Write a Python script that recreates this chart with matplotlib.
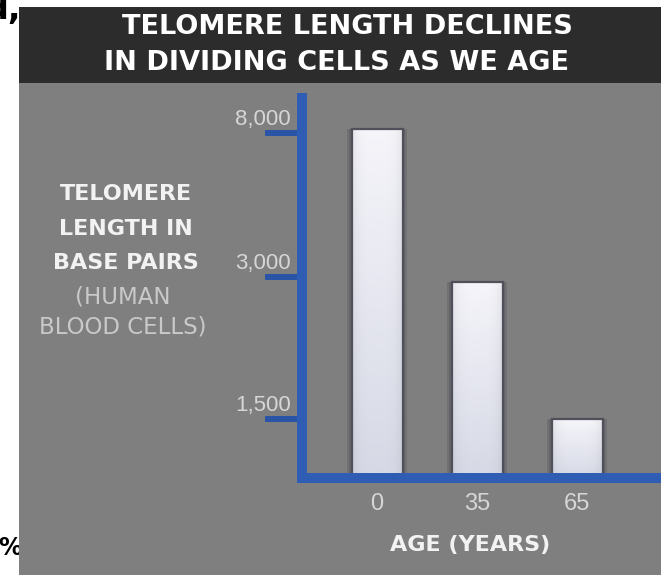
import numpy as np
import matplotlib
matplotlib.use("Agg")
import matplotlib.pyplot as plt
from matplotlib.patches import Rectangle
from matplotlib.ticker import NullLocator
from matplotlib.transforms import ScaledTranslation, TransformedBbox, BboxTransformTo

# data
ages = ["0", "35", "65"]
telomere_bp = [8150, 2950, 1500]
ytick_values = [1500, 3000, 8000]
ytick_labels = ["1,500", "3,000", "8,000"]

# the value axis in the picture is not linear: the three ticks are evenly spaced
scale_values = [0, 1500, 3000, 8000, 20000]
scale_units = [0, 0.415, 1.415, 2.43, 2.43 + 12000 * 1.015 / 5000]


def fwd(v):
    return np.interp(v, scale_values, scale_units)


def inv(u):
    return np.interp(u, scale_units, scale_values)


W, H = 661, 575
BLUE = "#2e5db3"
GRAY = "#7f7f7f"


def fx(px):
    return px / W


def fy(py):
    return 1 - py / H


plt.rcParams["font.family"] = ["Liberation Sans", "DejaVu Sans"]
fig = plt.figure(figsize=(W / 100, H / 100), dpi=100)
fig.patch.set_facecolor("white")

# cut-off text of the page the chart was taken from
fig.text(fx(21), fy(19), "d,", ha="right", va="baseline", fontsize=24,
         weight="bold", color="black", family="DejaVu Sans", zorder=-3)
fig.text(fx(22), fy(555), "%", ha="right", va="baseline", fontsize=17,
         weight="bold", color="black", family="DejaVu Sans", zorder=-3)

# gray panel and dark header
fig.patches.append(Rectangle((fx(19), 0), 1 - fx(19), fy(7), transform=fig.transFigure,
                             facecolor=GRAY, edgecolor="none", zorder=-2))
fig.patches.append(Rectangle((fx(19), fy(83)), 1 - fx(19), fy(7) - fy(83),
                             transform=fig.transFigure, facecolor="#2c2c2c",
                             edgecolor="none", zorder=-1))

fig.text(fx(347), fy(27), "TELOMERE LENGTH DECLINES", ha="center", va="center",
         fontsize=19.5, weight="bold", color="white", family="DejaVu Sans")
fig.text(fx(337), fy(63), "IN DIVIDING CELLS AS WE AGE", ha="center", va="center",
         fontsize=19.5, weight="bold", color="white", family="DejaVu Sans")

# y axis title, block of lines at the left
ylab_lines = ["TELOMERE", "LENGTH IN", "BASE PAIRS", "(HUMAN", "BLOOD CELLS)"]
ylab_y = [194, 229, 263, 297, 327]
for i, (txt, yy) in enumerate(zip(ylab_lines, ylab_y)):
    if i < 3:
        fig.text(fx(126), fy(yy), txt, ha="center", va="center", fontsize=16,
                 weight="bold", color="#f2f2f2", family="DejaVu Sans")
    else:
        fig.text(fx(123), fy(yy), txt, ha="center", va="center", fontsize=16.5,
                 color="#c9c9c9", family="DejaVu Sans")

fig.text(fx(470), fy(545), "AGE (YEARS)", ha="center", va="center", fontsize=16,
         weight="bold", color="#f2f2f2", family="DejaVu Sans")

ax = fig.add_axes([fx(302), fy(478), 1 - fx(302), fy(98) - fy(478)])
ax.patch.set_visible(False)
ax.set_yscale("function", functions=(fwd, inv))

x = np.arange(len(ages))
# soft shadow
ax.bar(x, telomere_bp, width=0.60, color="#4a4a52", alpha=0.25, zorder=1)
ax.bar(x, telomere_bp, width=0.56, color="#4a4a52", alpha=0.3, zorder=1)
bars = ax.bar(x, telomere_bp, width=0.51, facecolor="#dcdde6", edgecolor="#50505a",
              linewidth=1.6, zorder=3)

# light gradient inside each bar
top = np.array([0.96, 0.96, 0.98])
bottom = np.array([0.84, 0.85, 0.90])
rows = np.linspace(0, 1, 60)[:, None, None]
cols = np.linspace(-1, 1, 24)[None, :, None]
grad = top * (1 - rows) + bottom * rows
grad = grad * (1 - 0.06 * cols ** 4)
grad = np.clip(np.broadcast_to(grad, (60, 24, 3)), 0, 1)
for b in bars:
    tb = TransformedBbox(b.get_bbox(), ax.transData)
    ax.imshow(grad, extent=(0, 1, 0, 1), transform=BboxTransformTo(tb),
              aspect="auto", interpolation="bicubic", zorder=2)
for b in bars:
    b.set_facecolor("none")

ax.set_xlim(-0.75, 2.84)
ax.set_ylim(0, inv(380 / 142))

for side in ["top", "right"]:
    ax.spines[side].set_visible(False)
for side in ["left", "bottom"]:
    ax.spines[side].set_linewidth(7.2)
    ax.spines[side].set_color(BLUE)
    ax.spines[side].set_capstyle("projecting")
    ax.spines[side].set_zorder(5)

ax.set_yticks(ytick_values, ytick_labels)
ax.yaxis.set_minor_locator(NullLocator())
ax.tick_params(axis="y", direction="out", length=26.6, width=4.3, color="#2a54a6",
               pad=0, labelsize=16, labelcolor="#d6d6d6")
for lab in ax.get_yticklabels():
    lab.set_transform(lab.get_transform() + ScaledTranslation(0.26, 0.16, fig.dpi_scale_trans))

ax.set_xticks(x, ages)
ax.tick_params(axis="x", length=0, pad=11, labelsize=17, labelcolor="#d6d6d6")

fig.savefig("out.png", dpi=100)
